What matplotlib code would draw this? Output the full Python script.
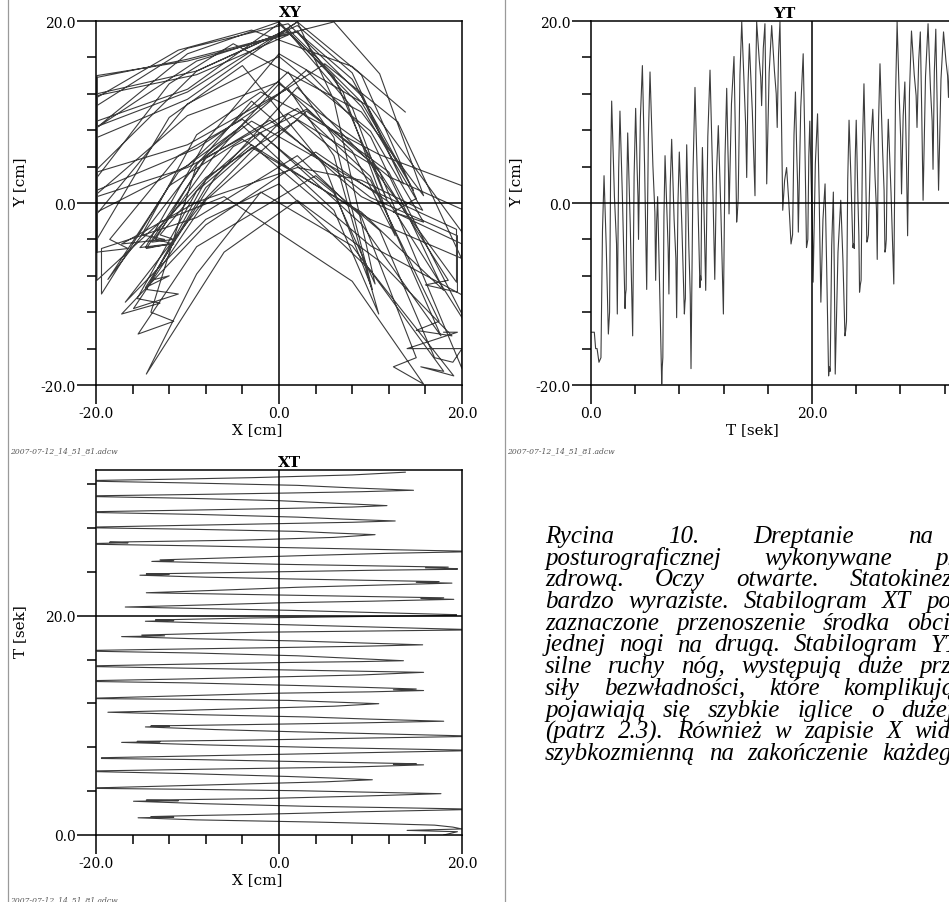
import numpy as np
import matplotlib.pyplot as plt
from matplotlib.lines import Line2D
from matplotlib.font_manager import FontProperties
from matplotlib.ticker import FixedLocator, FormatStrFormatter

plt.rcParams['font.family'] = 'DejaVu Serif'
plt.rcParams['axes.unicode_minus'] = False

# --- recording (T [s], X [cm], Y [cm]) ---
# turning points of the stepping (X at the extremes, Y near its troughs)
vert_t = [0.00, 0.55, 1.57, 2.38, 3.08, 3.77, 4.30, 5.04, 5.85, 6.40,
          7.05, 7.75, 8.45, 9.05, 9.86, 10.38, 11.20, 11.98, 12.49, 13.18,
          14.09, 14.84, 15.44, 15.90, 16.85, 17.35, 18.10, 18.76, 19.50, 20.10,
          20.80, 21.50, 22.10, 22.98, 23.70, 24.30, 24.96, 25.90, 26.60, 27.40,
          28.10, 28.65, 29.50, 30.05, 30.95, 31.45, 32.35, 33.10]
vert_x = [18.0, 20.0, -15.4, 20.0, -15.9, 17.7, -19.9, 10.2, -19.9, 15.8,
          -19.4, 20.0, -17.2, 20.0, -14.6, 18.0, -18.7, 10.9, -19.9, 15.8,
          -19.9, 15.8, -19.9, 13.6, -19.9, 15.7, -17.2, 20.0, -14.6, 19.4,
          -16.8, 19.1, -14.5, 18.9, -15.2, 19.5, -13.9, 20.0, -19.9, 10.5,
          -19.9, 12.7, -19.9, 11.8, -19.9, 14.7, -19.9, 13.8]
vert_y = [-14.2, -16.0, -14.4, -12.2, -11.6, -14.6, -4.0, -9.5, -8.5, -19.9,
          -10.0, -12.6, -12.2, -18.2, -9.3, -9.6, -8.4, -12.2, -1.2, -2.1,
          2.8, 0.8, 10.7, 2.1, 8.3, -0.8, -4.5, -3.2, -4.9, -8.7,
          -10.9, -19.0, -18.8, -14.6, -4.9, -9.8, -4.3, -6.2, -5.4, -8.9,
          1.0, -3.6, 8.3, 0.3, 3.7, 1.4, 11.6, 10.0]

# climb of Y at the start of every step
rise_t = [1.04, 1.78, 2.50, 3.25, 3.90, 4.47, 5.19, 5.94, 6.60, 7.17,
          7.87, 8.60, 9.23, 10.02, 10.57, 11.36, 12.13, 12.71, 13.48, 14.21,
          14.91, 15.59, 16.12, 16.97, 17.52, 18.37, 18.98, 19.71, 20.30, 20.99,
          21.78, 22.35, 23.23, 23.91, 24.57, 25.30, 26.02, 26.81, 27.55, 28.25,
          28.82, 29.65, 30.27, 31.07, 31.67, 32.47]
rise_x = [11, -9, 12, -8, 10, -12, 6, -13, 9, -12,
          12, -9, 11, -8, 10, -11, 6, -10, 9, -12,
          11, -10, 8, -10, 9, -9, 10, -8, 10, -8,
          8, -6, 10, -8, 9, -5, 13, -11, 6, -10,
          7, -9, 6, -9, 8, -11]
rise_y = [-3.0, 4.2, 3.4, 2.5, 2.9, 9.4, 7.2, -2.1, -1.5, 1.9,
          0.1, 1.3, 3.4, 1.7, 7.3, 3.4, 5.2, 10.9, 14.1, 13.1,
          14.2, 17.0, 14.3, 16.4, 2.5, 7.5, 10.5, 5.1, 4.3, -1.8,
          -4.7, -5.4, 2.5, 4.9, 6.6, 6.2, 8.9, 5.2, 11.3, 9.6,
          12.2, 15.6, 13.9, 14.5, 13.6, 16.8]

# Y spikes in the middle of every step
peak_t = [1.18, 1.87, 2.62, 3.32, 4.04, 4.65, 5.34, 6.03, 6.70, 7.30,
          7.99, 8.66, 9.41, 10.08, 10.77, 11.52, 12.28, 12.94, 13.64, 14.33,
          14.99, 15.74, 16.35, 17.10, 17.70, 18.50, 19.20, 19.80, 20.50, 21.18,
          21.93, 22.60, 23.35, 24.00, 24.70, 25.50, 26.15, 26.90, 27.70, 28.40,
          29.00, 29.80, 30.50, 31.20, 31.90, 32.60]
peak_x = [4, -3, 3, -2, 2, -4, 1, -6, 2, -4,
          4, -3, 2, -3, 3, -4, 1, 0, 2, -5,
          6, 1, 2, 0, 2, -2, 0, -3, 1, 0,
          -2, 2, 2, -1, 0, 3, 5, -4, 2, 0,
          2, 1, 0, 1, 2, -3]
peak_y = [3.0, 11.2, 10.1, 7.7, 10.4, 15.1, 14.4, 0.7, 5.2, 7.0,
          5.6, 6.4, 12.7, 6.1, 14.6, 8.5, 12.6, 16.1, 19.9, 17.5,
          19.9, 19.7, 19.5, 19.9, 3.9, 12.2, 16.4, 9.0, 9.8, 2.1,
          1.2, 0.3, 9.1, 9.1, 13.1, 10.3, 15.3, 9.2, 19.9, 13.3,
          18.9, 18.8, 19.7, 19.1, 18.8, 19.0]

# shoulders on the way down after each spike
knee_t = [1.38, 2.12, 2.85, 3.55, 4.17, 4.85, 5.60, 6.20, 6.88, 7.52,
          8.22, 8.85, 9.62, 10.23, 10.98, 11.75, 12.38, 13.06, 13.88, 14.60,
          15.22, 15.82, 16.60, 17.22, 17.90, 18.62, 19.35, 19.95, 20.65, 21.33,
          22.02, 22.80, 23.52, 24.15, 24.83, 25.70, 26.38, 27.15, 27.90, 28.53,
          29.25, 29.92, 30.72, 31.32, 32.12, 32.85]
knee_x = [-9, 9, -8, 9, -10, 5, -10, 8, -9, 10,
          -8, 10, -7, 9, -9, 6, -10, 10, -10, 9,
          -10, 9, -9, 9, -9, 11, -8, 11, -8, 10,
          -9, 11, -8, 10, -7, 12, -9, 6, -10, 8,
          -9, 8, -10, 9, -10, 8]
knee_y = [-4.8, 0.7, 0.3, -2.3, 3.9, 4.0, 4.1, -8.6, -1.6, -1.8,
          -2.4, -4.7, 2.8, -1.0, 4.3, -0.8, 6.4, 7.9, 12.2, 10.0,
          15.8, 11.8, 14.5, 10.6, 0.1, 5.3, 6.8, 1.0, 0.5, -7.4,
          -7.8, -6.4, 2.8, 0.6, 5.3, 2.9, 6.0, 1.1, 11.4, 5.7,
          14.1, 10.5, 12.5, 11.1, 15.6, 15.0]

# X held at the edge of the range while Y is still falling
edge_t = [2.31, 4.25, 5.78, 6.98, 7.68, 8.98, 12.44, 14.00, 15.36, 16.76,
          18.70, 20.04, 24.24, 25.83, 26.52, 28.02, 29.42, 30.87, 32.27]
edge_x = [20.0, -19.9, -19.9, -19.4, 20.0, 20.0, -19.9, -19.9, -19.9, -19.9,
          20.0, 19.4, 19.5, 20.0, -19.9, -19.9, -19.9, -19.9, -19.9]
edge_y = [-4.5, 0.7, -1.0, -5.0, -6.1, -10.1, 3.4, 8.4, 13.8, 12.0,
          1.9, -2.9, -3.6, -0.7, 1.4, 7.2, 11.8, 9.0, 14.0]

# small hooks where the foot lands
hook_t = [0.30, 0.42, 0.72, 0.90, 1.63, 1.68, 3.13, 3.18, 6.45, 6.50,
          8.50, 8.54, 9.91, 9.95, 13.25, 13.32, 18.17, 18.24, 19.56, 19.62,
          21.57, 21.64, 23.05, 23.12, 23.76, 23.82, 24.37, 24.44, 25.03, 25.10,
          26.66, 26.72]
hook_x = [19.5, 14.0, 19.0, 17.0, -11.5, -14.0, -11.0, -14.5, 12.5, 15.0,
          -13.0, -15.5, -12.0, -14.0, 12.5, 15.0, -12.5, -15.0, -11.5, -13.5,
          15.5, 18.0, 15.0, 17.5, -12.0, -14.5, 16.0, 18.5, -11.5, -13.0,
          -16.5, -18.5]
hook_y = [-14.2, -16.0, -17.5, -17.0, -13.0, -12.0, -10.0, -9.5, -18.0, -17.0,
          -11.0, -10.5, -8.0, -8.5, -1.0, 0.5, -4.0, -3.5, -4.5, -4.0,
          -18.0, -18.5, -14.0, -13.0, -4.5, -5.0, -9.0, -8.5, -4.0, -3.5,
          -5.0, -4.0]

caption_lines = [
    "Rycina 10. Dreptanie na",
    "posturograficznej wykonywane przez",
    "zdrową. Oczy otwarte. Statokinezjogram",
    "bardzo wyraziste. Stabilogram XT pokazuje",
    "zaznaczone przenoszenie środka obciążenia",
    "jednej nogi na drugą. Stabilogram YT",
    "silne ruchy nóg, występują duże przyspieszenia",
    "siły bezwładności, które komplikują",
    "pojawiają się szybkie iglice o dużej",
    "(patrz 2.3). Również w zapisie X widać",
    "szybkozmienną na zakończenie każdego",
]
# letters of the last word that are still on the page, and where they end (px)
caption_cut = [2, 1, 10, 2, 4, 2, 3, 10, 5, 3, 6]
caption_end = [933, 948, 953, 951, 950, 958, 951, 955, 954, 951, 952]
stamp = "2007-07-12_14_51_81.adcw"

# merge all samples into one time ordered trace
t = np.concatenate([vert_t, rise_t, peak_t, knee_t, edge_t, hook_t])
x = np.concatenate([vert_x, rise_x, peak_x, knee_x, edge_x, hook_x])
y = np.concatenate([vert_y, rise_y, peak_y, knee_y, edge_y, hook_y])
order = np.argsort(t, kind='stable')
t, x, y = t[order], x[order], y[order]

W, H = 949, 903
fig = plt.figure(figsize=(W / 100, H / 100), dpi=100)


def px_box(left, top, right, bottom):
    return [left / W, 1 - bottom / H, (right - left) / W, (bottom - top) / H]


def fx(px):
    return px / W


def fy(py):
    return 1 - py / H


trace = dict(color='#3c3c3c', lw=0.8)
centre = dict(color='black', lw=1.1, zorder=3)
tick_font = 10
label_font = 11


def style(ax, xmaj, xmin, ymaj, ymin):
    ax.xaxis.set_major_locator(FixedLocator(xmaj))
    ax.xaxis.set_minor_locator(FixedLocator(xmin))
    ax.yaxis.set_major_locator(FixedLocator(ymaj))
    ax.yaxis.set_minor_locator(FixedLocator(ymin))
    ax.xaxis.set_major_formatter(FormatStrFormatter('%.1f'))
    ax.yaxis.set_major_formatter(FormatStrFormatter('%.1f'))
    ax.tick_params(which='major', direction='out', length=14, width=1.1,
                   labelsize=tick_font, top=False, right=False)
    ax.tick_params(axis='x', which='major', pad=1)
    ax.tick_params(axis='y', which='major', pad=0.5)
    ax.tick_params(which='minor', direction='out', length=6.5, width=1.1,
                   top=False, right=False)
    for s in ax.spines.values():
        s.set_linewidth(1.1)


cm_ticks = [-20, 0, 20]
cm_minor = [-16, -12, -8, -4, 4, 8, 12, 16]
t_ticks = [0, 20]
t_minor = [4, 8, 12, 16, 24, 28, 32]
t_max = 33.3

# XY
ax1 = fig.add_axes(px_box(96, 22, 462, 386))
ax1.plot(x, y, **trace)
ax1.axhline(0, **centre)
ax1.axvline(0, **centre)
ax1.set_xlim(-20, 20)
ax1.set_ylim(-20, 20)
style(ax1, cm_ticks, cm_minor, cm_ticks, cm_minor)

# YT (runs past the right edge of the page)
ax2 = fig.add_axes(px_box(591, 22, 591 + 368, 386))
ax2.plot(t, y, **trace)
ax2.axhline(0, **centre)
ax2.axvline(20, **centre)
ax2.set_xlim(0, t_max)
ax2.set_ylim(-20, 20)
style(ax2, t_ticks, t_minor, cm_ticks, cm_minor)

# XT
ax3 = fig.add_axes(px_box(96, 471, 462, 836))
ax3.plot(x, t, **trace)
ax3.axvline(0, **centre)
ax3.axhline(20, **centre)
ax3.set_xlim(-20, 20)
ax3.set_ylim(0, t_max)
style(ax3, cm_ticks, cm_minor, t_ticks, t_minor)

# titles and axis names
fig.text(fx(290), fy(13), 'XY', ha='center', va='center', fontsize=label_font, fontweight='bold')
fig.text(fx(784), fy(14), 'YT', ha='center', va='center', fontsize=label_font, fontweight='bold')
fig.text(fx(289), fy(463), 'XT', ha='center', va='center', fontsize=label_font, fontweight='bold')
fig.text(fx(257), fy(430), 'X [cm]', ha='center', va='center', fontsize=label_font)
fig.text(fx(752), fy(430), 'T [sek]', ha='center', va='center', fontsize=label_font)
fig.text(fx(257), fy(880), 'X [cm]', ha='center', va='center', fontsize=label_font)
fig.text(fx(20), fy(182), 'Y [cm]', ha='center', va='center', fontsize=label_font, rotation=90)
fig.text(fx(516), fy(182), 'Y [cm]', ha='center', va='center', fontsize=label_font, rotation=90)
fig.text(fx(20), fy(632), 'T [sek]', ha='center', va='center', fontsize=label_font, rotation=90)

# file stamps
for sx, sy in [(10, 451), (507, 451), (10, 900)]:
    fig.text(fx(sx), fy(sy), stamp, ha='left', va='center', fontsize=5.5,
             style='italic', color='#555555')

# page separators
for lx in [8, 505]:
    fig.add_artist(Line2D([fx(lx), fx(lx)], [0, 1], color='#9a9a9a', lw=0.9))

# caption, justified so that each line runs off the page like in the scan
cap_font = FontProperties(family='Liberation Serif', style='italic', size=18)
renderer = fig.canvas.get_renderer()


def text_width(s):
    return renderer.get_text_width_height_descent(s, cap_font, ismath=False)[0]


for i, line in enumerate(caption_lines):
    words = line.split()
    base = 543 + 21.7 * i
    widths = [text_width(w) for w in words]
    used = sum(widths[:-1]) + text_width(words[-1][:caption_cut[i]])
    gap = (caption_end[i] - 545 - used) / (len(words) - 1)
    wx = 545
    for word, w in zip(words, widths):
        fig.text(fx(wx), fy(base), word, ha='left', va='baseline',
                 fontproperties=cap_font)
        wx += w + gap

fig.savefig('out.png', dpi=100)
